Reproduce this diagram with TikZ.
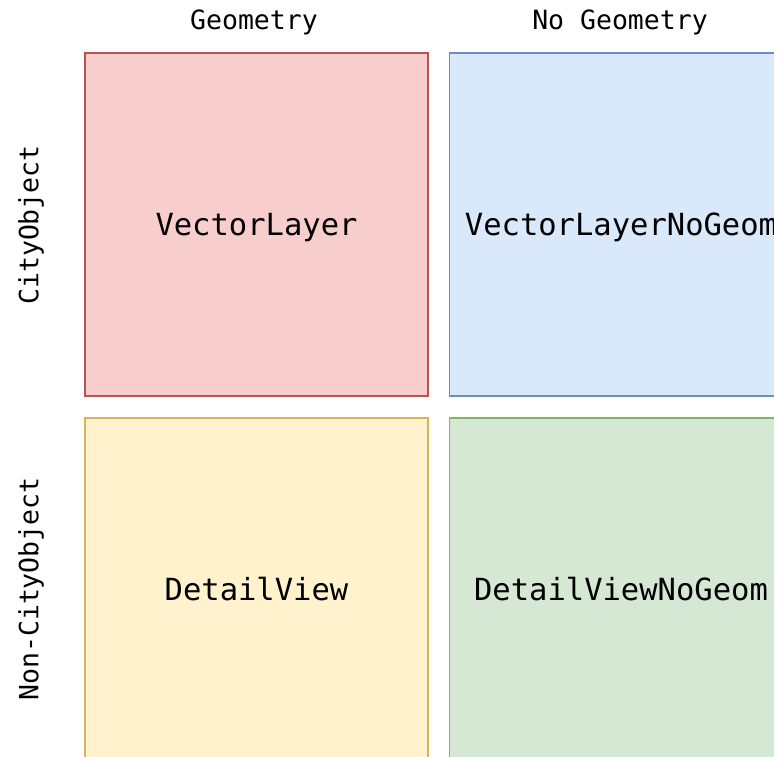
\documentclass[tikz,border=0pt]{standalone}
\usepackage{fontspec}
\setmonofont{DejaVu Sans Mono}
\definecolor{redfill}{HTML}{F8CECC}\definecolor{redline}{HTML}{B85450}
\definecolor{bluefill}{HTML}{DAE8FC}\definecolor{blueline}{HTML}{6C8EBF}
\definecolor{yellowfill}{HTML}{FFF2CC}\definecolor{yellowline}{HTML}{D6B656}
\definecolor{greenfill}{HTML}{D5E8D4}\definecolor{greenline}{HTML}{82B366}
\tikzset{
  cell/.style={draw, line width=1.5pt, minimum width=343pt, minimum height=343pt,
    inner sep=0pt, text=black, text height=22pt, text depth=0pt,
    font=\ttfamily\fontsize{30.5}{35}\selectfont},
  header/.style={text=black, inner sep=0pt, font=\ttfamily\fontsize{26.5}{30}\selectfont},
}
\begin{document}
\begin{tikzpicture}[x=1pt,y=1pt]
  \useasboundingbox (0,0) rectangle (774,-756);
  \clip (0,0) rectangle (774,-756);
  \fill[white] (0,0) rectangle (774,-756);
  % quadrant cells
  \node[cell, fill=redfill, draw=redline]       (vl)  at (256.5,-224.5) {VectorLayer};
  \node[cell, fill=bluefill, draw=blueline]     (vln) at (621,-224.5)   {VectorLayerNoGeom};
  \node[cell, fill=yellowfill, draw=yellowline] (dv)  at (256.5,-589.5) {DetailView};
  \node[cell, fill=greenfill, draw=greenline]   (dvn) at (621,-589.5)   {DetailViewNoGeom};
  % axis headers
  \node[header] (geo)   at (254,-22)  {Geometry};
  \node[header] (nogeo) at (620,-22)  {No Geometry};
  \node[header, rotate=90] (city)    at (31,-225) {CityObject};
  \node[header, rotate=90] (noncity) at (31,-589) {Non-CityObject};
\end{tikzpicture}
\end{document}
